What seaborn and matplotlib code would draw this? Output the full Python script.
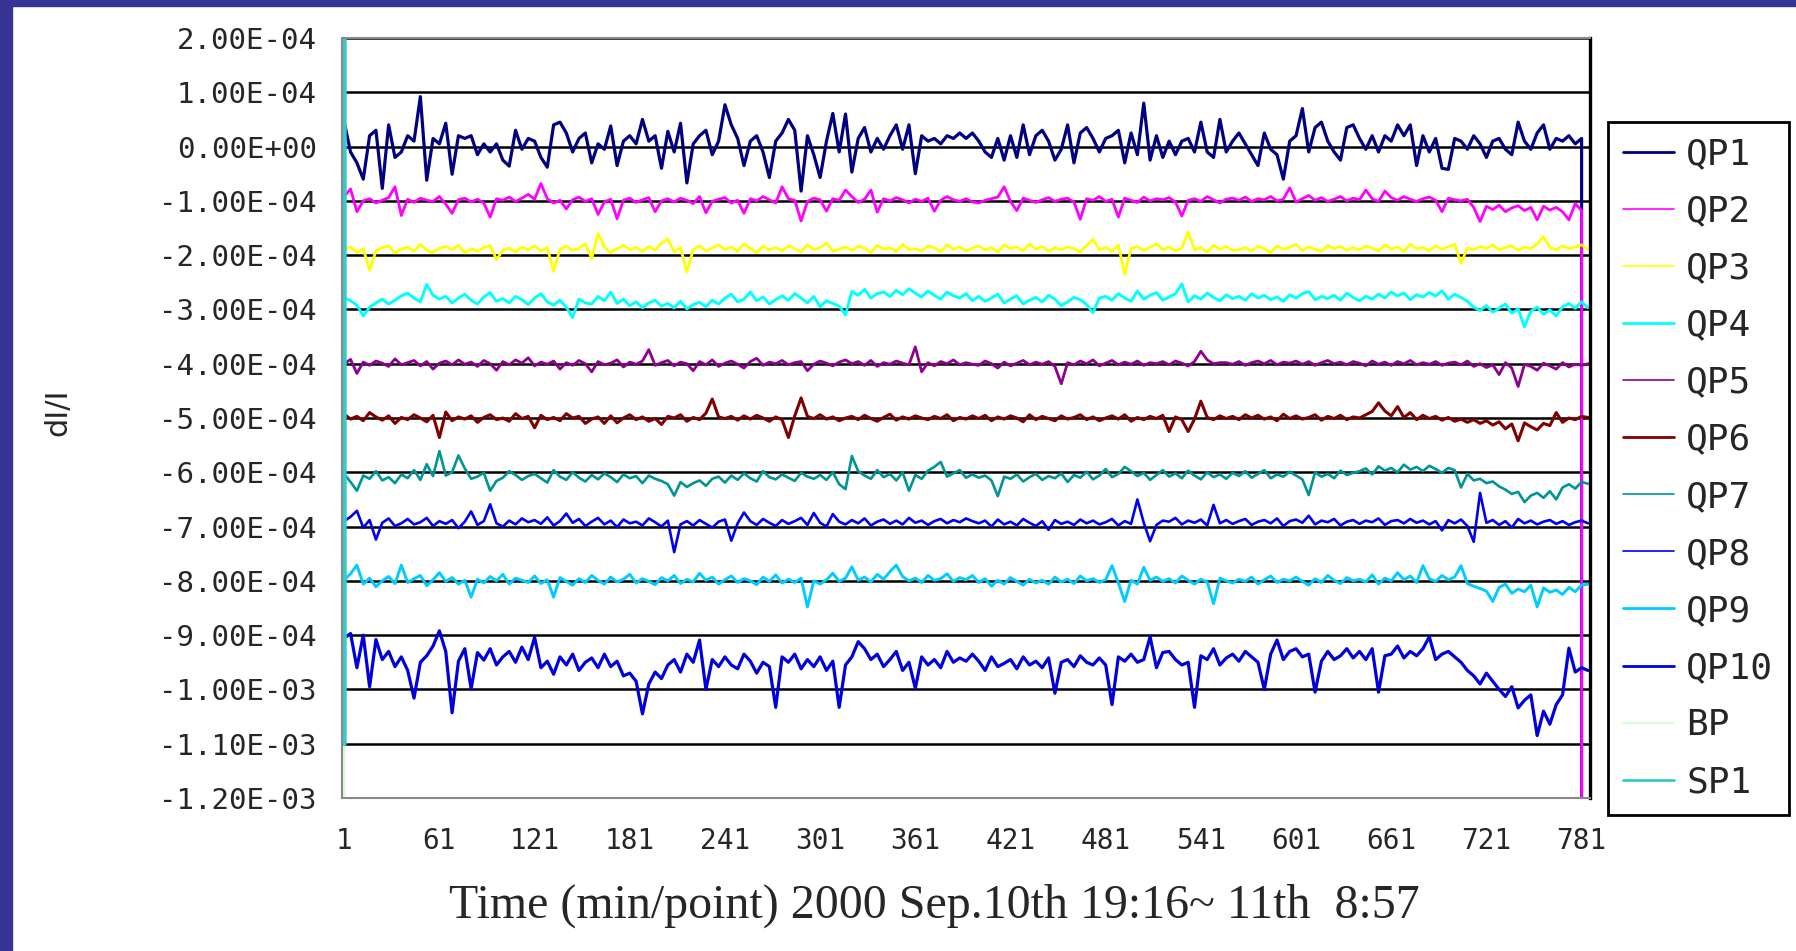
import numpy as np
import pandas as pd
import matplotlib
matplotlib.use("Agg")
import matplotlib.pyplot as plt
import seaborn as sns
from matplotlib.patches import Rectangle
from matplotlib.ticker import FuncFormatter, MultipleLocator

# dI/I values are written in units of 1e-6, one value every 4th minute
UNIT = 1e-6
time_idx = np.arange(1, 786, 4)

qp1 = [45, -10, -30, -60, 20, 30, -77, 40, -20, -10,
       20, 10, 92, -62, 15, 5, 43, -51, 20, 15,
       20, -15, 5, -10, 5, -25, -36, 30, -5, 15,
       10, -20, -38, 40, 45, 25, -10, 15, 25, -30,
       5, -5, 38, -35, 10, 20, 5, 50, 10, 20,
       -40, 28, -10, 43, -67, 5, 20, 30, -15, 10,
       77, 40, 15, -35, 10, 20, -10, -57, 10, 25,
       50, 30, -82, 20, -15, -57, 10, 61, -10, 60,
       -47, 15, 35, -10, 15, -5, 20, 40, -5, 40,
       -50, 20, 10, 15, 5, 20, 15, 25, 15, 25,
       10, -10, -20, 15, -25, 20, -20, 40, -15, 20,
       30, 10, -25, -5, 40, -30, 25, 35, 15, -10,
       15, 20, 30, -30, 25, -15, 80, -25, 20, -20,
       10, -15, 10, 15, -10, 45, -10, -20, 50, -10,
       10, 25, 5, -15, -35, 25, -5, -15, -60, 10,
       20, 70, -10, 35, 45, 10, -10, -25, 35, 40,
       15, -5, 20, -10, 20, 10, 40, 20, 40, -35,
       20, -10, 15, -40, -42, 15, 10, -5, 20, 5,
       -20, 10, 15, -5, -15, 45, 10, -5, 25, 40,
       -5, 15, 10, 20, 5, 15, -1000000]

qp2 = [-92, -78, -120, -100, -96, -104, -99, -94, -74, -127,
       -97, -103, -95, -99, -101, -92, -106, -123, -98, -95,
       -102, -97, -104, -130, -96, -99, -93, -101, -95, -88,
       -97, -68, -96, -104, -99, -115, -98, -93, -101, -96,
       -125, -102, -97, -133, -99, -95, -103, -98, -94, -120,
       -100, -96, -102, -95, -99, -105, -92, -122, -101, -97,
       -94, -104, -99, -123, -96, -100, -92, -98, -104, -74,
       -96, -99, -137, -101, -95, -98, -119, -96, -99, -80,
       -92, -103, -97, -80, -121, -96, -100, -94, -98, -104,
       -97, -101, -95, -119, -99, -92, -98, -101, -96, -102,
       -104, -99, -96, -93, -74, -101, -118, -95, -99, -103,
       -98, -94, -101, -97, -95, -102, -134, -96, -99, -92,
       -101, -97, -130, -95, -99, -103, -93, -100, -96, -98,
       -94, -102, -128, -99, -96, -101, -92, -98, -104, -97,
       -95, -99, -93, -101, -96, -98, -92, -100, -97, -76,
       -102, -96, -90, -99, -94, -101, -97, -92, -100, -95,
       -98, -80, -96, -101, -82, -94, -99, -92, -97, -101,
       -96, -93, -99, -120, -95, -98, -100, -97, -112, -138,
       -110, -116, -108, -120, -113, -109, -118, -112, -135, -110,
       -117, -112, -120, -135, -105, -118, -1000000]

qp3 = [-190, -185, -195, -188, -228, -192, -186, -183, -196, -189,
       -185, -193, -180, -191, -195, -187, -184, -190, -182, -196,
       -188, -193, -186, -182, -208, -191, -187, -194, -185, -190,
       -183, -192, -186, -230, -189, -184, -191, -188, -179, -206,
       -160, -185, -195, -188, -182, -190, -186, -193, -184, -191,
       -178, -170, -194, -186, -231, -190, -183, -192, -187, -181,
       -190, -185, -193, -179, -188, -195, -184, -190, -186, -192,
       -183, -188, -194, -181, -190, -186, -178, -193, -189, -185,
       -191, -184, -187, -195, -182, -189, -186, -193, -180, -190,
       -188, -192, -183, -186, -194, -181, -189, -185, -192, -187,
       -183, -190, -186, -194, -181, -188, -185, -192, -180, -189,
       -184, -193, -186, -190, -185, -188, -194, -182, -171, -190,
       -186, -193, -181, -235, -188, -184, -191, -186, -179, -190,
       -185, -192, -187, -157, -190, -186, -194, -182, -189, -184,
       -191, -190, -186, -192, -184, -188, -195, -183, -189, -186,
       -180, -191, -185, -189, -193, -182, -188, -184, -191, -186,
       -190, -183, -187, -192, -181, -189, -185, -193, -180, -188,
       -186, -192, -183, -189, -185, -180, -215, -187, -190, -184,
       -188, -181, -190, -186, -183, -191, -185, -188, -179, -166,
       -186, -190, -183, -188, -185, -181, -189]

qp4 = [-278, -284, -292, -312, -296, -288, -281, -290, -283, -275,
       -270, -279, -286, -254, -274, -281, -276, -288, -279, -272,
       -283, -290, -277, -269, -285, -280, -288, -276, -282, -291,
       -279, -271, -286, -292, -283, -296, -315, -281, -288, -290,
       -276, -284, -268, -289, -281, -293, -286, -297, -288, -283,
       -294, -289, -297, -285, -299, -291, -287, -295, -283, -290,
       -279, -272, -286, -281, -268, -284, -277, -290, -282, -275,
       -283, -271, -279, -288, -276, -295, -284, -289, -294, -310,
       -267, -274, -263, -279, -271, -268, -276, -265, -273, -262,
       -270, -277, -266, -274, -281, -268, -275, -279, -271, -284,
       -276, -285, -279, -272, -288, -281, -275, -290, -283, -278,
       -286, -274, -281, -293, -286, -278, -282, -291, -306, -279,
       -276, -283, -271, -279, -285, -266, -281, -274, -269, -283,
       -277, -271, -253, -286, -275, -281, -270, -278, -284, -273,
       -280, -276, -283, -271, -279, -274, -282, -277, -285, -273,
       -279, -271, -267, -282, -276, -280, -274, -283, -270, -278,
       -284, -276, -281, -272, -279, -268, -275, -270, -282, -273,
       -277, -269, -275, -266, -281, -272, -278, -285, -296, -302,
       -293, -305, -298, -290, -307, -299, -332, -303, -296, -309,
       -301, -312, -295, -289, -298, -286, -297]

qp5 = [-400, -392, -418, -397, -403, -395, -399, -405, -391, -402,
       -398, -394, -404, -396, -410, -399, -395, -402, -393, -401,
       -397, -405, -394, -400, -412, -396, -402, -393, -399, -389,
       -404, -397, -401, -395, -410, -398, -403, -394, -400, -415,
       -396, -402, -399, -393, -406, -397, -401, -395, -374, -403,
       -398, -394, -404, -397, -400, -413, -396, -402, -393, -405,
       -399, -395, -401, -408, -396, -390, -403, -397, -400, -394,
       -402, -398, -396, -413, -401, -395, -399, -404, -397, -393,
       -400, -396, -403, -394, -405, -398, -401, -395, -399, -402,
       -369, -415, -398, -404, -396, -400, -393, -402, -398, -401,
       -403, -395, -400, -408, -397, -404, -399, -394, -402, -397,
       -401, -396, -405, -437, -398, -402, -395, -400, -393, -404,
       -399, -394, -402, -397, -401, -395, -403, -398, -400, -396,
       -402, -395, -399, -404, -396, -377, -393, -400, -398, -398,
       -401, -396, -403, -398, -395, -400, -394, -402, -397, -399,
       -395, -401, -396, -403, -398, -394, -400, -397, -402, -396,
       -399, -404, -395, -401, -397, -403, -396, -400, -394, -402,
       -398, -401, -396, -403, -399, -397, -402, -395, -405, -400,
       -407, -402, -420, -398, -408, -442, -401, -405, -412, -399,
       -404, -410, -398, -406, -401, -403, -400]

qp6 = [-493, -502, -497, -505, -490, -498, -504, -496, -510, -499,
       -503, -494, -500, -507, -495, -536, -489, -505, -498, -502,
       -496, -508, -499, -494, -503, -500, -506, -492, -501, -497,
       -518, -495, -503, -499, -505, -492, -500, -497, -510, -502,
       -498, -510, -496, -509, -500, -494, -503, -498, -506, -501,
       -512, -497, -500, -494, -506, -499, -503, -491, -465, -498,
       -501, -497, -504, -496, -502, -495, -500, -506, -498, -503,
       -536, -496, -463, -497, -501, -494, -502, -498, -505, -500,
       -497, -503, -495, -501, -506, -499, -493, -504, -498, -502,
       -496, -500, -503, -497, -501, -494, -505, -499, -502, -496,
       -501, -495, -505, -498, -502, -496, -500, -507, -494, -503,
       -497, -501, -505, -496, -502, -499, -494, -503, -498, -505,
       -500, -496, -502, -494, -506, -499, -503, -497, -501, -495,
       -525, -498, -503, -525, -502, -469, -499, -503, -496, -501,
       -497, -503, -494, -500, -495, -502, -498, -505, -493, -501,
       -496, -502, -499, -494, -504, -497, -501, -495, -503, -498,
       -500, -494, -488, -472, -487, -496, -479, -499, -490, -503,
       -495, -501, -497, -504, -499, -506, -502, -508, -503, -510,
       -505, -513, -507, -520, -511, -542, -509, -516, -522, -510,
       -514, -490, -508, -500, -503, -497, -499]

qp7 = [-603, -618, -634, -606, -612, -598, -615, -609, -620, -604,
       -611, -596, -614, -585, -607, -561, -606, -600, -569, -593,
       -612, -608, -601, -634, -616, -610, -598, -605, -614, -607,
       -603, -611, -619, -596, -608, -614, -600, -610, -617, -605,
       -613, -602, -609, -618, -604, -611, -607, -620, -606, -612,
       -616, -622, -643, -618, -627, -620, -615, -625, -612, -608,
       -619, -606, -614, -602, -611, -617, -598, -609, -613, -604,
       -610, -616, -601, -608, -612, -605, -614, -600, -622, -631,
       -570, -598, -606, -612, -596, -609, -603, -615, -600, -634,
       -605, -612, -597, -590, -581, -608, -602, -596, -610, -604,
       -610, -606, -615, -644, -608, -612, -604, -617, -609, -603,
       -614, -607, -611, -602, -618, -605, -610, -599, -613, -606,
       -594, -609, -603, -590, -598, -607, -601, -614, -605, -596,
       -608, -602, -611, -597, -606, -613, -600, -609, -604, -612,
       -601, -607, -598, -610, -603, -596, -611, -604, -608, -599,
       -606, -613, -642, -600, -608, -603, -611, -597, -605, -601,
       -598, -593, -604, -589, -597, -592, -600, -586, -595, -590,
       -598, -588, -594, -601, -592, -596, -628, -603, -615, -612,
       -620, -617, -626, -632, -640, -636, -655, -643, -638, -647,
       -635, -650, -628, -622, -630, -618, -621]

qp8 = [-690, -682, -671, -702, -688, -724, -693, -685, -699, -694,
       -686, -696, -692, -684, -699, -690, -695, -688, -703, -691,
       -672, -697, -690, -659, -694, -700, -689, -696, -685, -692,
       -688, -695, -683, -698, -690, -676, -693, -686, -699, -691,
       -684, -696, -689, -701, -687, -694, -691, -698, -685, -692,
       -700, -689, -747, -696, -690, -698, -688, -695, -702, -691,
       -687, -726, -694, -674, -690, -697, -686, -693, -699, -688,
       -695, -690, -684, -697, -675, -693, -700, -677, -691, -696,
       -688, -694, -685, -698, -691, -687, -695, -689, -696, -684,
       -693, -689, -697, -690, -686, -694, -688, -692, -685, -690,
       -694, -689, -700, -687, -696, -691, -698, -686, -693, -699,
       -690, -706, -688, -695, -691, -697, -687, -694, -689, -696,
       -692, -686, -698, -690, -695, -650, -693, -727, -697, -689,
       -691, -684, -696, -689, -693, -687, -698, -660, -694, -688,
       -695, -690, -686, -697, -691, -688, -694, -685, -699, -690,
       -687, -693, -680, -696, -689, -692, -686, -698, -691, -688,
       -695, -689, -692, -685, -697, -690, -688, -694, -686, -693,
       -689, -696, -690, -707, -688, -694, -687, -699, -728, -638,
       -693, -688, -697, -690, -702, -686, -694, -689, -696, -691,
       -688, -695, -690, -697, -692, -689, -694]

qp9 = [-798, -787, -771, -806, -795, -811, -800, -792, -805, -771,
       -803, -796, -790, -809, -798, -785, -801, -794, -806, -799,
       -830, -797, -804, -792, -800, -788, -806, -795, -799, -803,
       -791, -805, -798, -830, -794, -801, -808, -796, -803, -790,
       -799, -806, -793, -802, -797, -788, -804, -796, -801, -807,
       -794, -800, -790, -805, -797, -802, -786, -799, -793, -806,
       -798, -791, -803, -796, -800, -807, -793, -801, -789, -804,
       -797, -803, -795, -848, -800, -806, -798, -786, -801, -795,
       -774, -799, -793, -802, -788, -797, -783, -771, -792, -800,
       -795, -803, -790, -799, -796, -787, -801, -794, -798, -790,
       -803, -796, -810, -799, -806, -794, -801, -808, -797, -804,
       -799, -806, -793, -802, -797, -805, -791, -800, -796, -803,
       -798, -772, -804, -838, -799, -806, -775, -799, -793, -801,
       -796, -804, -791, -799, -806, -797, -802, -842, -795, -800,
       -804, -797, -801, -793, -806, -798, -791, -803, -797, -800,
       -793, -801, -808, -796, -803, -790, -799, -805, -794, -800,
       -797, -802, -789, -806, -795, -800, -785, -798, -791, -803,
       -772, -796, -801, -790, -798, -793, -772, -805, -810, -814,
       -819, -838, -812, -806, -823, -815, -820, -808, -848, -813,
       -821, -817, -825, -812, -820, -808, -806]

qp10 = [-905, -897, -960, -900, -995, -908, -945, -930, -958, -940,
        -965, -1016, -950, -938, -920, -892, -930, -1043, -948, -925,
        -999, -932, -946, -925, -955, -940, -930, -950, -922, -945,
        -904, -960, -948, -972, -940, -955, -935, -965, -950, -942,
        -960, -935, -958, -948, -975, -970, -985, -1045, -990, -968,
        -980, -955, -945, -968, -935, -950, -909, -1000, -945, -958,
        -940, -955, -962, -935, -948, -970, -950, -958, -1033, -940,
        -950, -935, -962, -945, -958, -940, -965, -948, -1033, -955,
        -940, -912, -925, -945, -935, -958, -945, -930, -965, -950,
        -998, -940, -955, -945, -960, -930, -950, -942, -948, -935,
        -948, -965, -940, -958, -952, -945, -962, -940, -955, -948,
        -960, -942, -1007, -950, -945, -958, -938, -950, -955, -942,
        -955, -1028, -940, -948, -935, -950, -945, -903, -960, -932,
        -930, -945, -955, -950, -1033, -938, -945, -925, -955, -942,
        -935, -948, -930, -940, -950, -1000, -935, -909, -945, -930,
        -925, -940, -935, -1005, -948, -930, -945, -938, -925, -942,
        -930, -945, -925, -1005, -938, -935, -920, -942, -930, -938,
        -925, -903, -945, -935, -930, -940, -950, -965, -975, -990,
        -970, -985, -1000, -1013, -995, -1034, -1020, -1010, -1085, -1040,
        -1064, -1028, -1010, -924, -968, -960, -965]

# BP and SP1 are off scale except for the first step at point 1
edge_time = [1, 5]
bp = [-1250, 1000000]
sp1 = [-1100, 1000000]

names = ["QP1", "QP2", "QP3", "QP4", "QP5", "QP6", "QP7", "QP8", "QP9", "QP10", "BP", "SP1"]
values = [qp1, qp2, qp3, qp4, qp5, qp6, qp7, qp8, qp9, qp10, bp, sp1]
colors = ["#000080", "#ff00ff", "#ffff00", "#00ffff", "#8f008f", "#800000",
          "#009595", "#0000ee", "#00ccff", "#0000dd", "#ccffcc", "#33cccc"]
widths = [2.3, 2.0, 2.0, 2.1, 2.0, 2.2, 1.9, 1.9, 2.1, 2.3, 1.5, 3.6]
legend_widths = [2.0, 1.2, 1.2, 2.0, 1.2, 2.0, 1.2, 1.2, 2.0, 2.0, 1.2, 2.0]

sns.set_style("white")
plt.rcParams["font.family"] = ["DejaVu Sans"]

W, H = 1796, 951
fig = plt.figure(figsize=(W / 100, H / 100), dpi=100)
fig.patch.set_facecolor("white")
# navy slide frame at top and left
fig.patches.append(Rectangle((0, 1 - 6 / H), 1, 6 / H, transform=fig.transFigure,
                             color="#363596", zorder=0))
fig.patches.append(Rectangle((0, 0), 12 / W, 1, transform=fig.transFigure,
                             color="#363596", zorder=0))

ax = fig.add_axes([342 / W, 1 - 798 / H, (1590 - 342) / W, (798 - 38) / H])

for name, vals, col, lw in zip(names, values, colors, widths):
    t = edge_time if name in ("BP", "SP1") else time_idx
    df = pd.DataFrame({"t": t, "v": np.array(vals, dtype=float) * UNIT})
    sns.lineplot(data=df, x="t", y="v", ax=ax, color=col, linewidth=lw,
                 label=name, estimator=None, sort=False)

handles, labels = ax.get_legend_handles_labels()
ax.get_legend().remove()

ax.set_xlim(-0.4, 786.3)
ax.set_ylim(-1.2e-3, 2e-4)
ax.set_xticks(range(1, 782, 60))
ax.yaxis.set_major_locator(MultipleLocator(1e-4))
ax.yaxis.set_major_formatter(FuncFormatter(lambda v, p: f"{round(v, 7) + 0.0:.2E}"))
ax.set_xlabel("")
ax.set_ylabel("")

ax.grid(False)
ax.yaxis.grid(True, color="black", linewidth=1.8)
ax.set_axisbelow(True)

for side in ["top", "bottom", "left"]:
    ax.spines[side].set_color("#888888")
    ax.spines[side].set_linewidth(1.5)
ax.spines["right"].set_color("black")
ax.spines["right"].set_linewidth(2.4)

ax.tick_params(axis="y", length=0, pad=18, labelsize=21, labelfontfamily="DejaVu Sans Mono")
ax.tick_params(axis="x", length=0, pad=21, labelsize=20, labelfontfamily="DejaVu Sans Mono")

fig.text(58 / W, 1 - 412 / H, "dI/I", rotation=90, ha="center", va="center",
         fontsize=22, family="DejaVu Sans")
fig.text(934 / W, 1 - 906 / H, "Time (min/point) 2000 Sep.10th 19:16~ 11th  8:57",
         ha="center", va="center", fontsize=34.5, family="Liberation Serif")

leg = fig.legend(handles, labels, loc="upper left", bbox_to_anchor=(1608 / W, 1 - 122 / H),
                 frameon=True, fancybox=False, edgecolor="black", framealpha=1,
                 prop={"family": "DejaVu Sans Mono", "size": 26},
                 handlelength=1.4, handletextpad=0.35, labelspacing=0.64,
                 borderpad=0.42, borderaxespad=0)
leg.get_frame().set_linewidth(2)
for line, lw in zip(leg.get_lines(), legend_widths):
    line.set_linewidth(lw)

fig.savefig("out.png", dpi=100)
